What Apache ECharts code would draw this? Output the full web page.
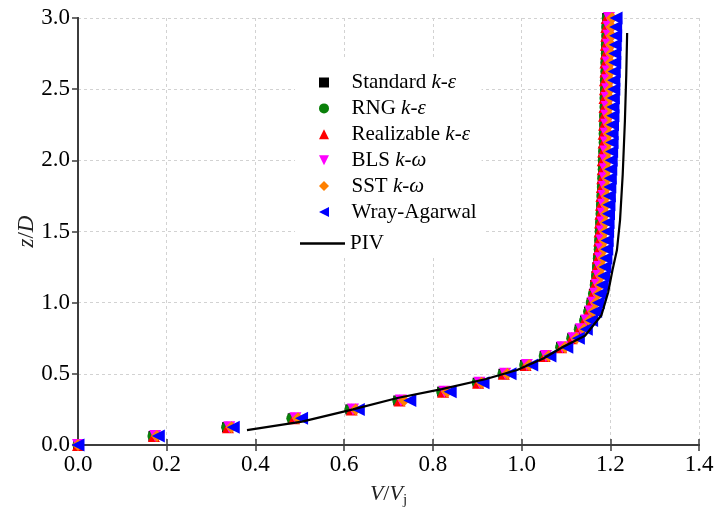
<!DOCTYPE html>
<html><head><meta charset="utf-8">
<script src="https://cdn.jsdelivr.net/npm/echarts@6/dist/echarts.min.js"></script>
<style>html,body{margin:0;padding:0;background:#fff}#c{width:715px;height:511px}</style>
</head><body><div id="c"></div>
<script>
// ---- data ----
const zValues = [0, 0.0625, 0.125, 0.1875, 0.25, 0.3125, 0.375, 0.4375, 0.5, 0.5625, 0.625, 0.6875, 0.75, 0.8125, 0.875, 0.9375, 1.0, 1.0625, 1.125, 1.1875, 1.25, 1.3125, 1.375, 1.4375, 1.5, 1.5625, 1.625, 1.6875, 1.75, 1.8125, 1.875, 1.9375, 2.0, 2.0625, 2.125, 2.1875, 2.25, 2.3125, 2.375, 2.4375, 2.5, 2.5625, 2.625, 2.6875, 2.75, 2.8125, 2.875, 2.9375, 3.0];
const standardKE = [0, 0.170, 0.336, 0.484, 0.614, 0.722, 0.821, 0.901, 0.959, 1.008, 1.052, 1.089, 1.114, 1.131, 1.143, 1.152, 1.158, 1.163, 1.166, 1.169, 1.171, 1.173, 1.175, 1.176, 1.177, 1.178, 1.179, 1.180, 1.181, 1.182, 1.183, 1.184, 1.184, 1.185, 1.186, 1.186, 1.187, 1.187, 1.188, 1.188, 1.189, 1.189, 1.190, 1.190, 1.191, 1.191, 1.192, 1.192, 1.193];
const rngKE = [0, 0.169, 0.335, 0.482, 0.613, 0.721, 0.820, 0.900, 0.958, 1.007, 1.051, 1.088, 1.113, 1.130, 1.142, 1.151, 1.157, 1.162, 1.166, 1.169, 1.171, 1.173, 1.175, 1.176, 1.177, 1.178, 1.179, 1.180, 1.181, 1.182, 1.183, 1.184, 1.184, 1.185, 1.186, 1.186, 1.187, 1.187, 1.188, 1.188, 1.189, 1.189, 1.190, 1.190, 1.191, 1.191, 1.192, 1.192, 1.193];
const realizableKE = [0, 0.171, 0.338, 0.487, 0.617, 0.725, 0.823, 0.902, 0.960, 1.009, 1.052, 1.089, 1.113, 1.130, 1.142, 1.151, 1.157, 1.161, 1.165, 1.168, 1.170, 1.172, 1.174, 1.175, 1.176, 1.177, 1.178, 1.179, 1.180, 1.181, 1.182, 1.183, 1.183, 1.184, 1.185, 1.185, 1.186, 1.186, 1.187, 1.187, 1.188, 1.188, 1.189, 1.189, 1.190, 1.190, 1.191, 1.191, 1.192];
const blsKW = [0, 0.174, 0.341, 0.490, 0.620, 0.728, 0.826, 0.905, 0.963, 1.012, 1.055, 1.092, 1.117, 1.134, 1.146, 1.155, 1.161, 1.166, 1.170, 1.173, 1.175, 1.177, 1.179, 1.180, 1.181, 1.182, 1.183, 1.184, 1.185, 1.186, 1.187, 1.188, 1.188, 1.189, 1.190, 1.190, 1.191, 1.191, 1.192, 1.192, 1.193, 1.193, 1.194, 1.194, 1.195, 1.195, 1.196, 1.196, 1.197];
const sstKW = [0, 0.178, 0.346, 0.496, 0.626, 0.735, 0.832, 0.910, 0.968, 1.017, 1.061, 1.098, 1.124, 1.141, 1.153, 1.162, 1.168, 1.173, 1.177, 1.180, 1.182, 1.184, 1.186, 1.187, 1.188, 1.189, 1.190, 1.191, 1.192, 1.193, 1.194, 1.195, 1.195, 1.196, 1.197, 1.197, 1.198, 1.198, 1.199, 1.199, 1.200, 1.200, 1.201, 1.201, 1.202, 1.202, 1.203, 1.203, 1.204];
const wrayAgarwal = [0, 0.181, 0.350, 0.504, 0.632, 0.748, 0.839, 0.913, 0.974, 1.023, 1.064, 1.102, 1.128, 1.146, 1.158, 1.167, 1.173, 1.178, 1.182, 1.185, 1.188, 1.190, 1.192, 1.193, 1.194, 1.195, 1.196, 1.197, 1.198, 1.199, 1.200, 1.201, 1.202, 1.203, 1.204, 1.204, 1.205, 1.206, 1.206, 1.207, 1.208, 1.208, 1.209, 1.210, 1.210, 1.211, 1.212, 1.212, 1.213];
const pivX = [0.381, 0.505, 0.62, 0.72, 0.82, 0.92, 0.99, 1.05, 1.094, 1.143, 1.18, 1.195, 1.205, 1.215, 1.222, 1.228, 1.233, 1.236, 1.238];
const pivZ = [0.105, 0.164, 0.25, 0.33, 0.393, 0.464, 0.527, 0.61, 0.69, 0.768, 0.912, 1.07, 1.23, 1.37, 1.58, 1.9, 2.28, 2.6, 2.895];
const seriesNames = ['Standard k-ε', 'RNG k-ε', 'Realizable k-ε', 'BLS k-ω', 'SST k-ω', 'Wray-Agarwal'];
const pivName = 'PIV';

// ---- styles ----
const FONT = 'Liberation Serif';
const AX = '#3c3c3c';
const symbols = [
  'path://M0,0H10V10H0Z',
  'circle',
  'path://M5,0L10,10L0,10Z',
  'path://M0,0L10,0L5,10Z',
  'path://M5,0L10,5L5,10L0,5Z',
  'path://M0,5L10,0L10,10Z'
];
const colors = ['#000000', '#0a800a', '#ff0000', '#ff00ff', '#ff8000', '#0000ff'];
const sizes = [10, 11, 12, 12, 12, 13];
const xSets = [standardKE, rngKE, realizableKE, blsKW, sstKW, wrayAgarwal];

const series = xSets.map((xs, k) => ({
  name: seriesNames[k],
  type: 'scatter',
  symbol: symbols[k],
  symbolSize: sizes[k],
  itemStyle: {color: colors[k], opacity: 1},
  data: zValues.map((z, i) => [xs[i], z]),
  clip: true,
  silent: true
}));
series.push({
  name: pivName,
  type: 'line',
  showSymbol: false,
  symbol: 'none',
  lineStyle: {color: '#000', width: 2.2},
  itemStyle: {color: '#000'},
  data: pivX.map((x, i) => [x, pivZ[i]]),
  silent: true
});

const gridLine = {show: true, lineStyle: {color: '#d2d2d2', type: [3, 3], width: 1}};
const richItal = {fontFamily: FONT, fontStyle: 'italic', fontSize: 21, lineHeight: 20, color: '#000'};

const chart = echarts.init(document.getElementById('c'), null, {renderer: 'canvas'});
chart.setOption({
  animation: false,
  backgroundColor: '#fff',
  grid: {left: 78, right: 16, top: 18, bottom: 66, outerBoundsMode: 'none', containLabel: false},
  xAxis: [{
    type: 'value', min: 0, max: 1.4, interval: 0.2,
    name: '{i|V}{n|/}{i|V}{s|j}', nameLocation: 'middle', nameGap: 36, nameMoveOverlap: false,
    nameTextStyle: {
      rich: {
        i: {fontFamily: FONT, fontStyle: 'italic', fontSize: 22, color: '#222'},
        n: {fontFamily: FONT, fontSize: 22, color: '#222'},
        s: {fontFamily: FONT, fontSize: 15, color: '#222', padding: [12, 0, 0, 0]}
      }
    },
    axisLine: {lineStyle: {color: AX, width: 2}},
    axisTick: {inside: true, length: 6, lineStyle: {color: AX, width: 1.5}},
    axisLabel: {fontFamily: FONT, fontSize: 23, color: '#000', margin: 8, formatter: v => v.toFixed(1)},
    splitLine: gridLine
  }, {
    type: 'value', position: 'top', min: 0, max: 1.4, interval: 0.2,
    axisLine: {lineStyle: {color: AX, width: 2}},
    axisTick: {inside: true, length: 6, lineStyle: {color: AX, width: 1.5}},
    axisLabel: {show: false}, splitLine: {show: false}
  }],
  yAxis: [{
    type: 'value', min: 0, max: 3.0, interval: 0.5,
    name: '{i|z}{n|/}{i|D}', nameLocation: 'middle', nameGap: 40, nameMoveOverlap: false,
    nameTextStyle: {
      rich: {
        i: {fontFamily: FONT, fontStyle: 'italic', fontSize: 23, color: '#222'},
        n: {fontFamily: FONT, fontSize: 23, color: '#222'}
      }
    },
    axisLine: {lineStyle: {color: AX, width: 2}},
    axisTick: {show: false},
    axisLabel: {fontFamily: FONT, fontSize: 23, color: '#000', margin: 8, formatter: v => v.toFixed(1)},
    splitLine: gridLine
  }, {
    type: 'value', position: 'right', min: 0, max: 3.0, interval: 0.5,
    axisLine: {lineStyle: {color: AX, width: 2}},
    axisTick: {inside: true, length: 6, lineStyle: {color: AX, width: 1.5}},
    axisLabel: {show: false}, splitLine: {show: false}
  }],
  legend: [{
    orient: 'vertical', left: 295, top: 57,
    padding: [15, 5, 6, 24],
    backgroundColor: '#fff',
    itemWidth: 45, itemHeight: 10, itemGap: 4.9,
    selectedMode: false,
    data: seriesNames.map((n, k) => ({name: n, icon: symbols[k], itemStyle: {color: colors[k]}})),
    formatter: n => n.replace(/(k-[εω])/, '{i|$1}'),
    textStyle: {fontFamily: FONT, fontSize: 21, lineHeight: 20, color: '#000', rich: {i: richItal}}
  }, {
    orient: 'vertical', left: 295, top: 224,
    padding: [9, 100, 4, 5],
    backgroundColor: '#fff',
    itemWidth: 45, itemHeight: 2.5,
    selectedMode: false,
    data: [{name: pivName, icon: 'rect', itemStyle: {color: '#000'}}],
    textStyle: {fontFamily: FONT, fontSize: 21, lineHeight: 20, color: '#000'}
  }],
  series: series
});
</script>
</body></html>
